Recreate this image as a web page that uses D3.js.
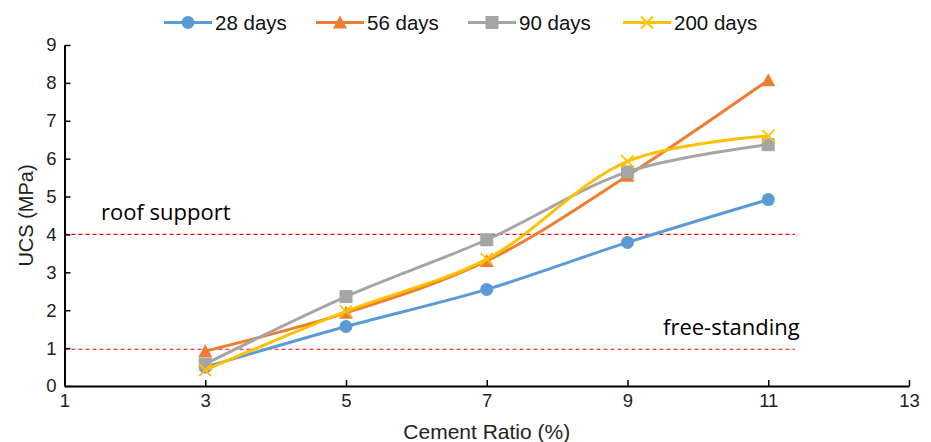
<!DOCTYPE html>
<html>
<head>
<meta charset="utf-8">
<script src="https://cdn.jsdelivr.net/npm/d3@7"></script>
<style>
  body { margin: 0; background: #fff; }
  svg { display: block; font-family: "Liberation Sans", Arial, sans-serif; }
</style>
</head>
<body>
<div id="chart"></div>
<script>
// cement ratio (%) on x, UCS (MPa) on y
const ratios = [3, 5, 7, 9, 11];
const ucs28 = [0.5, 1.57, 2.55, 3.79, 4.92];
const ucs56 = [0.92, 1.93, 3.3, 5.55, 8.07];
const ucs90 = [0.58, 2.36, 3.86, 5.65, 6.37];
const ucs200 = [0.42, 1.97, 3.35, 5.93, 6.6];
const seriesNames = ["28 days", "56 days", "90 days", "200 days"];
const xTicks = [1, 3, 5, 7, 9, 11, 13];
const yTicks = [0, 1, 2, 3, 4, 5, 6, 7, 8, 9];
const limits = [
  {name: "roof support", value: 4},
  {name: "free-standing", value: 0.97}
];

const width = 931, height = 442;
const margin = {top: 45, right: 22, bottom: 56, left: 64.5};

const colors = ["#5B9BD5", "#ED7D31", "#A5A5A5", "#FFC000"];
const shapes = ["circle", "triangle", "square", "cross"];
const series = [ucs28, ucs56, ucs90, ucs200].map((vals, i) => ({
  name: seriesNames[i],
  color: colors[i],
  shape: shapes[i],
  points: vals.map((v, j) => ({x: ratios[j], y: v}))
}));

const x = d3.scaleLinear().domain([1, 13]).range([margin.left, width - margin.right]);
const y = d3.scaleLinear().domain([0, 9]).range([height - margin.bottom, margin.top]);

const svg = d3.create("svg")
  .attr("width", width)
  .attr("height", height);

// red dashed reference lines
svg.append("g")
  .selectAll("line")
  .data(limits)
  .join("line")
    .attr("x1", x(1))
    .attr("x2", x(11.38))
    .attr("y1", d => y(d.value))
    .attr("y2", d => y(d.value))
    .attr("stroke", "#FF0000")
    .attr("stroke-width", 1.2)
    .attr("stroke-dasharray", "4,3");

svg.append("text")
  .attr("x", 101)
  .attr("y", y(4) - 14)
  .attr("font-family", "'Open Sans', sans-serif")
  .attr("font-size", 22)
  .attr("fill", "#000")
  .text(limits[0].name);

svg.append("text")
  .attr("x", 663)
  .attr("y", y(1) - 13)
  .attr("font-family", "'Open Sans', sans-serif")
  .attr("font-size", 22)
  .attr("fill", "#000")
  .text(limits[1].name);

// axes
const xAxis = svg.append("g")
  .attr("transform", `translate(0,${y(0)})`)
  .call(d3.axisBottom(x).tickValues(xTicks).tickSizeInner(-6).tickSizeOuter(0).tickPadding(10));
const yAxis = svg.append("g")
  .attr("transform", `translate(${x(1)},0)`)
  .call(d3.axisLeft(y).tickValues(yTicks).tickSizeInner(-6).tickSizeOuter(0).tickPadding(5));

[xAxis, yAxis].forEach(ax => {
  ax.select(".domain").attr("stroke", "#000").attr("stroke-width", 2);
  ax.selectAll(".tick line").attr("stroke", "#000").attr("stroke-width", 1.5);
  ax.selectAll(".tick text").attr("font-size", 18.5).attr("fill", "#222")
    .attr("font-family", "Liberation Sans, Arial, sans-serif");
});
xAxis.selectAll(".tick text").attr("dy", "0.6em");
yAxis.selectAll(".tick text").attr("x", -8);

svg.append("text")
  .attr("x", (x(1) + x(13)) / 2)
  .attr("y", 439)
  .attr("text-anchor", "middle")
  .attr("font-size", 21)
  .attr("fill", "#222")
  .text("Cement Ratio (%)");

svg.append("text")
  .attr("transform", `translate(33,${(y(0) + y(9)) / 2}) rotate(-90)`)
  .attr("text-anchor", "middle")
  .attr("font-size", 20)
  .attr("fill", "#222")
  .text("UCS (MPa)");

// markers
const drawMarker = (g, shape, color) => {
  if (shape === "circle") {
    g.append("circle").attr("r", 6.5).attr("fill", color);
  } else if (shape === "triangle") {
    g.append("path").attr("d", "M0,-7L7,6L-7,6Z").attr("fill", color);
  } else if (shape === "square") {
    g.append("rect").attr("x", -6.5).attr("y", -6.5).attr("width", 13).attr("height", 13).attr("fill", color);
  } else {
    g.append("path").attr("d", "M-6,-6L6,6M-6,6L6,-6")
      .attr("stroke", color).attr("stroke-width", 1.8).attr("fill", "none");
  }
};

const line = d3.line()
  .x(d => x(d.x))
  .y(d => y(d.y))
  .curve(d3.curveCatmullRom.alpha(0.5));

series.forEach(s => {
  const g = svg.append("g");
  g.append("path")
    .datum(s.points)
    .attr("d", line)
    .attr("fill", "none")
    .attr("stroke", s.color)
    .attr("stroke-width", 3)
    .attr("stroke-linejoin", "round");
  g.selectAll("g.mark")
    .data(s.points)
    .join("g")
      .attr("class", "mark")
      .attr("transform", d => `translate(${x(d.x)},${y(d.y)})`)
      .each(function() { drawMarker(d3.select(this), s.shape, s.color); });
});

// legend
const legendX = [188, 340, 492, 647];
const legend = svg.append("g")
  .selectAll("g")
  .data(series)
  .join("g")
    .attr("transform", (d, i) => `translate(${legendX[i]},22.5)`);
legend.append("line")
  .attr("x1", -24).attr("x2", 24)
  .attr("stroke", d => d.color)
  .attr("stroke-width", 3);
legend.each(function(d) { drawMarker(d3.select(this), d.shape, d.color); });
legend.append("text")
  .attr("x", 27)
  .attr("dy", "0.35em")
  .attr("font-size", 20.5)
  .attr("fill", "#111")
  .text(d => d.name);

document.getElementById("chart").appendChild(svg.node());
</script>
</body>
</html>
